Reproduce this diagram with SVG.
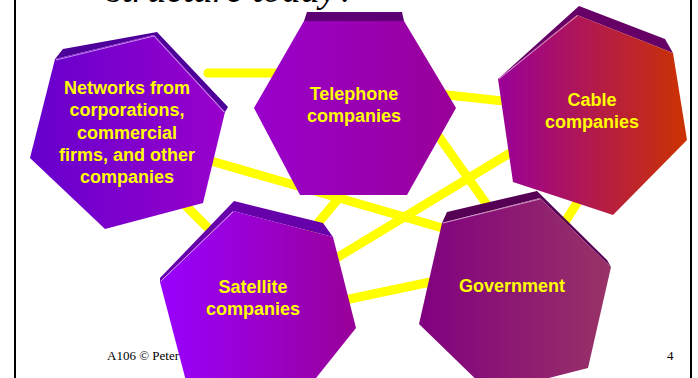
<svg xmlns="http://www.w3.org/2000/svg" width="698" height="378" viewBox="0 0 698 378">
<style>
.frame{stroke:#000;stroke-width:2;fill:none}
.conn line{stroke:#ffff00;stroke-width:9;stroke-linecap:butt}
.lbl{font-family:"Liberation Sans",Arial,sans-serif;font-weight:bold;font-size:18px;fill:#ffff00;text-anchor:middle}
.hl{stroke:#ffffff;stroke-opacity:0.55;stroke-width:1;fill:none}
.foot{font-family:"Liberation Serif","Times New Roman",serif;font-size:13px;fill:#000}
</style>
<defs>
<linearGradient id="gNet" x1="0" y1="0" x2="1" y2="0"><stop offset="0" stop-color="#6600cc"/><stop offset="1" stop-color="#9900cc"/></linearGradient>
<linearGradient id="gTel" x1="0" y1="0" x2="1" y2="0"><stop offset="0" stop-color="#9900cc"/><stop offset="1" stop-color="#990099"/></linearGradient>
<linearGradient id="gCab" x1="0" y1="0" x2="1" y2="0"><stop offset="0" stop-color="#990099"/><stop offset="1" stop-color="#cc3300"/></linearGradient>
<linearGradient id="gSat" x1="0" y1="0" x2="1" y2="0"><stop offset="0" stop-color="#9900ff"/><stop offset="1" stop-color="#990099"/></linearGradient>
<linearGradient id="gGov" x1="0" y1="0" x2="1" y2="0"><stop offset="0" stop-color="#800080"/><stop offset="1" stop-color="#993366"/></linearGradient>
</defs>
<rect width="698" height="378" fill="#fff"/>
<text x="107" y="1.5" font-family="'Liberation Serif','Times New Roman',serif" font-style="italic" font-size="38" fill="#000">structure today?</text>
<line class="frame" x1="15" y1="0" x2="15" y2="378"/>
<line class="frame" x1="691" y1="0" x2="691" y2="378"/>
<text class="foot" x="107" y="360">A106 © Peter</text>
<text class="foot" x="667" y="360">4</text>
<g id="connectors" class="conn">
<line x1="208" y1="73" x2="300" y2="73" style="stroke-linecap:round"/>
<line x1="420" y1="92" x2="530" y2="104"/>
<line x1="180" y1="152" x2="470" y2="236"/>
<line x1="170" y1="190" x2="225" y2="245"/>
<line x1="348" y1="187" x2="308" y2="235"/>
<line x1="420" y1="110" x2="500" y2="223"/>
<line x1="530" y1="141" x2="320" y2="268"/>
<line x1="585" y1="190" x2="555" y2="238"/>
<line x1="340" y1="301" x2="440" y2="280"/>
</g>
<g id="networks">
<polygon points="55,59 63,49 157,32 228,107 225,112 154,35" fill="#4d0099"/>
<polygon points="55,59 154,35 225,112 203,203 105,229 30,158" fill="url(#gNet)"/>
<polyline class="hl" points="56,60 154,36 224,112"/>
<text class="lbl" x="127" y="94">Networks from</text>
<text class="lbl" x="127" y="116">corporations,</text>
<text class="lbl" x="127" y="139">commercial</text>
<text class="lbl" x="127" y="161">firms, and other</text>
<text class="lbl" x="127" y="183">companies</text>
</g>
<g id="telephone">
<polygon points="307,12 402,12 404,21 304,21" fill="#5c0073"/>
<polygon points="304,21 404,21 456,108 407,195 300,195 254,108" fill="url(#gTel)"/>
<text class="lbl" x="354" y="100">Telephone</text>
<text class="lbl" x="354" y="122">companies</text>
</g>
<g id="cable">
<polygon points="498,79 579,6 665,39 673,53 577,15" fill="#660066"/>
<polygon points="577,15 673,53 687,140 613,215 513,182 498,79" fill="url(#gCab)"/>
<polyline class="hl" points="499,79 577,16"/>
<text class="lbl" x="592" y="106">Cable</text>
<text class="lbl" x="592" y="128">companies</text>
</g>
<g id="government">
<polygon points="442,223 447,212 537,191 607,260 611,267 540,198" fill="#550055"/>
<polygon points="442,223 540,198 611,267 588,368 490,393 419,324" fill="url(#gGov)"/>
<polyline class="hl" points="443,223 540,199"/>
<text class="lbl" x="512" y="292">Government</text>
</g>
<g id="satellite">
<polygon points="160,282 160,278 234,201 323,223 333,237 233,211" fill="#6600aa"/>
<polygon points="160,282 233,211 333,237 356,328 300,398 191,400" fill="url(#gSat)"/>
<polyline class="hl" points="161,281 233,212"/>
<text class="lbl" x="253" y="293">Satellite</text>
<text class="lbl" x="253" y="315">companies</text>
</g>
</svg>
